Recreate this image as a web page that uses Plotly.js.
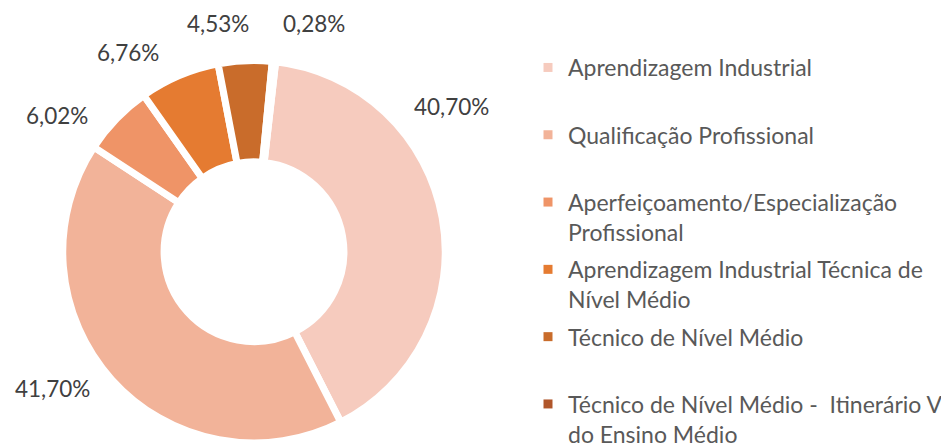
<!DOCTYPE html>
<html>
<head>
<meta charset="utf-8">
<script src="https://cdn.plot.ly/plotly-3.0.1.min.js"></script>
<style>html,body{margin:0;padding:0;background:#fff;}#chart{width:941px;height:443px;}</style>
</head>
<body>
<div id="chart"></div>
<script>
// Categories (legend labels, wrapped as in the reference)
var categories = [
  'Aprendizagem Industrial',
  'Qualificação Profissional',
  'Aperfeiçoamento/Especialização<br>Profissional',
  'Aprendizagem Industrial Técnica de<br>Nível Médio',
  'Técnico de Nível Médio',
  'Técnico de Nível Médio -  Itinerário V<br>do Ensino Médio'
];
// Shares (%)
var shares = [40.70, 41.70, 6.02, 6.76, 4.53, 0.28];
// Slice colours
var sliceColors = ['#F6CBBE', '#F2B399', '#EF9467', '#E57B31', '#C96C2B', '#B0562A'];

var labelTexts = shares.map(function (v) { return v.toFixed(2).replace('.', ',') + '%'; });

// Label anchor positions (pixels in the 941x443 figure) – layout only
var labelPos = [[451, 106], [52, 388], [57, 115], [128, 52], [218, 24], [314, 24]];

var FONT = 'Lato, sans-serif';
var W = 941, H = 443;

var pie = {
  type: 'pie',
  labels: categories,
  values: shares,
  textinfo: 'none',
  sort: false,
  direction: 'clockwise',
  rotation: 6.5,
  hole: 0.47,
  showlegend: false,
  marker: { colors: sliceColors, line: { color: '#ffffff', width: 7 } },
  domain: { x: [62.5 / W, 445.5 / W], y: [0, 0.8634] },
  hoverinfo: 'label+percent'
};

// Legend entries (one per category, same colours as the slices)
var legendTraces = categories.map(function (c, i) {
  return {
    type: 'scatter', mode: 'markers',
    x: [null], y: [null],
    name: c.indexOf('<br>') < 0 ? c + '<br>\u00a0' : c,
    legendgroup: 'g' + i,
    marker: { symbol: 'square', size: 9, color: sliceColors[i] },
    hoverinfo: 'skip'
  };
});

var annotations = labelTexts.map(function (t, i) {
  return {
    text: t, showarrow: false,
    xref: 'paper', yref: 'paper',
    x: labelPos[i][0] / W, y: 1 - labelPos[i][1] / H,
    xanchor: 'center', yanchor: 'middle',
    font: { family: FONT, size: 22.5, color: '#404040' }
  };
});

var layout = {
  width: W,
  height: H,
  margin: { l: 0, r: 0, t: 0, b: 0, autoexpand: false },
  paper_bgcolor: '#ffffff',
  plot_bgcolor: '#ffffff',
  showlegend: true,
  xaxis: { visible: false, domain: [0.99, 1] },
  yaxis: { visible: false, domain: [0.99, 1] },
  legend: {
    x: 528 / W, xanchor: 'left',
    y: 1 - 46 / H, yanchor: 'top',
    valign: 'top',
    traceorder: 'grouped',
    tracegroupgap: 4.5,
    itemsizing: 'trace',
    font: { family: FONT, size: 23, color: '#595959' },
    bgcolor: 'rgba(0,0,0,0)'
  },
  annotations: annotations,
  font: { family: FONT }
};

Plotly.newPlot('chart', [pie].concat(legendTraces), layout, { staticPlot: true, displayModeBar: false });
</script>
</body>
</html>
